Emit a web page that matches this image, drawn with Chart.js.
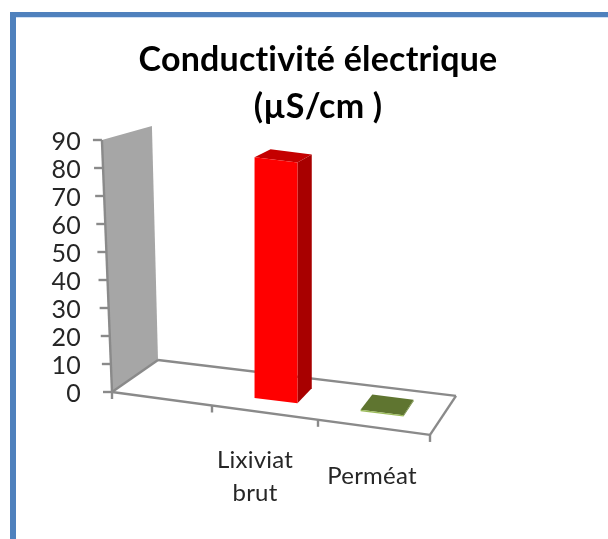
<!DOCTYPE html>
<html>
<head>
<meta charset="utf-8">
<style>html,body{margin:0;padding:0;background:#fff}#w{width:608px;height:539px;position:relative}</style>
<script src="https://cdn.jsdelivr.net/npm/chart.js@4"></script>
</head>
<body>
<div id="w"><canvas id="c" width="608" height="539"></canvas></div>
<script>
const titleLines = ['Conductivité électrique', '(µS/cm )'];
const categories = ['', ['Lixiviat', 'brut'], 'Perméat'];
const values = [null, 86, 0.5];
const yMax = 90;
const yStep = 10;

const FRONT = ['rgba(0,0,0,0)', '#ff0000', '#9bbb59'];
const SIDE = ['rgba(0,0,0,0)', '#a80000', '#6f8a38'];
const TOP = ['rgba(0,0,0,0)', '#c40000', '#5f7530'];
const GREY = '#8a8a8a';
const SKEW = 0.125, SHIFT_X = 5, SHIFT_Y = 6, SKEW_ORIGIN = 249.5;
const LABEL_NUDGE = [0, -16, -5];

function poly(ctx, pts, fill) {
  ctx.beginPath();
  pts.forEach((p, i) => i ? ctx.lineTo(p[0], p[1]) : ctx.moveTo(p[0], p[1]));
  ctx.closePath();
  ctx.fillStyle = fill;
  ctx.fill();
}
function line(ctx, a, b, w) {
  ctx.beginPath();
  ctx.moveTo(a[0], a[1]);
  ctx.lineTo(b[0], b[1]);
  ctx.lineWidth = w || 2.4;
  ctx.strokeStyle = GREY;
  ctx.stroke();
}
const front = (x, y) => [x + SHIFT_X, y + SKEW * (x - SKEW_ORIGIN) + SHIFT_Y];
const back = p => [p[0] + 16 - (p[0] - 255) * 0.04, p[1] - 8 - (p[1] - 160) * 7 / 240];

const scene = {
  id: 'scene',
  beforeDraw(chart) {
    const ctx = chart.ctx;
    ctx.save();
    ctx.fillStyle = '#4f81bd';
    ctx.fillRect(10, 12, 598, 5);
    ctx.fillRect(10, 12, 6, 527);
    ctx.fillStyle = '#cfe0f5';
    ctx.fillRect(16, 17, 592, 1);
    ctx.restore();
    ctx.letterSpacing = '0.2px';
    chart.scales.x.getLabelItems().forEach((it, i) => {
      if (!it._moved) { it.options.translation[0] += LABEL_NUDGE[i]; it._moved = true; }
    });
    chart.scales.y.getLabelItems().forEach(it => {
      if (!it._moved) { it.options.translation[1] += 2; it._moved = true; }
    });
  },
  afterLayout(chart) {
    chart.titleBlock.left = 28;
    chart.titleBlock.right = 608;
  },
  beforeDatasetsDraw(chart) {
    const ctx = chart.ctx, xs = chart.scales.x, ys = chart.scales.y;
    const L = xs.left, R = xs.right, y0 = ys.getPixelForValue(0), yT = ys.getPixelForValue(yMax);
    const edgeX = y => L - (y0 - y) * 0.04;
    const warp = x => { const u = (x - L) / (R - L); return x - 27 * u * (1 - u); };
    const floorY = x => y0 + 0.135 * (x - L);
    ctx.save();
    // back wall
    const fl = [L, y0], tl = [edgeX(yT), yT];
    poly(ctx, [tl, [tl[0] + 50, yT - 14], [L + 46, y0 - 32], fl], '#a6a6a6');
    // floor
    const bl = [L + 46, y0 - 32], fr = [R, floorY(R)], br = [R + 26, floorY(R) - 39];
    poly(ctx, [fl, bl, br, fr], '#ffffff');
    line(ctx, fl, fr); line(ctx, fr, br); line(ctx, br, bl); line(ctx, bl, fl);
    line(ctx, fl, tl);
    // axis ticks
    ys.ticks.forEach(t => {
      const y = ys.getPixelForValue(t.value), x = edgeX(y);
      line(ctx, [x - 9, y], [x, y]);
    });
    for (let i = 0; i <= categories.length; i++) {
      const x = warp(L + (R - L) * i / categories.length), y = floorY(x);
      line(ctx, [x, y], [x, y + 7]);
    }
    // bar depth faces
    chart.getDatasetMeta(0).data.forEach((el, i) => {
      if (values[i] === null) return;
      const hw = el.width / 2;
      const tlf = front(el.x - hw, el.y), trf = front(el.x + hw, el.y), brf = front(el.x + hw, el.base);
      poly(ctx, [trf, back(trf), back(brf), brf], SIDE[i]);
      poly(ctx, [tlf, back(tlf), back(trf), trf], TOP[i]);
    });
    ctx.restore();
    ctx.save();
    ctx.transform(1, SKEW, 0, 1, SHIFT_X, SHIFT_Y - SKEW * SKEW_ORIGIN);
  },
  afterDatasetsDraw(chart) {
    chart.ctx.restore();
  }
};

new Chart(document.getElementById('c'), {
  type: 'bar',
  data: {
    labels: categories,
    datasets: [{
      data: values,
      backgroundColor: FRONT,
      borderWidth: 0,
      categoryPercentage: 1,
      barPercentage: 0.405,
      clip: false
    }]
  },
  plugins: [scene],
  options: {
    responsive: false,
    animation: false,
    layout: { padding: { left: 0, right: 178, top: 0, bottom: 0 } },
    plugins: {
      legend: { display: false },
      tooltip: { enabled: false },
      title: {
        display: true,
        text: titleLines,
        color: '#000000',
        font: { family: 'Lato', size: 34, weight: 'bold', lineHeight: 47 / 34 },
        padding: { top: 36.5, bottom: 9.5 }
      }
    },
    scales: {
      x: {
        grid: { display: false, drawTicks: false },
        border: { display: false },
        ticks: {
          color: '#262626',
          font: { family: 'Lato', size: 24, lineHeight: 33 / 24 },
          crossAlign: 'center',
          maxRotation: 0,
          autoSkip: false,
          padding: 68
        },
        afterFit(s) { s.height = 147; }
      },
      y: {
        min: 0,
        max: yMax,
        grid: { display: false, drawTicks: false },
        border: { display: false },
        ticks: {
          stepSize: yStep,
          autoSkip: false,
          color: '#262626',
          font: { family: 'Lato', size: 25 },
          padding: 31
        },
        afterFit(s) { s.width = 112; }
      }
    }
  }
});
</script>
</body>
</html>
